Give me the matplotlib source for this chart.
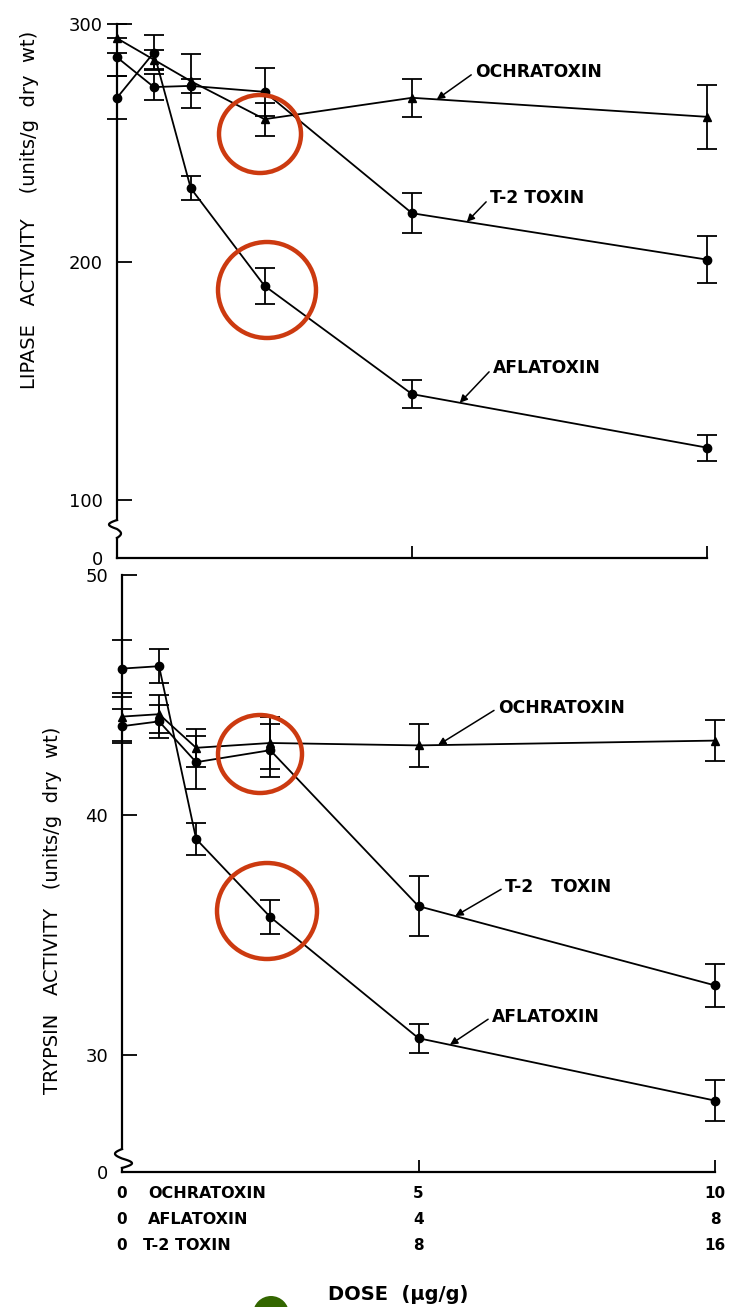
import numpy as np
import matplotlib
matplotlib.use("Agg")
import matplotlib.pyplot as plt
from matplotlib.patches import Ellipse

plt.rcParams['font.family'] = ['DejaVu Sans']

# ---------------- data ----------------
dose_ochratoxin = [0, 0.625, 1.25, 2.5, 5, 10]
dose_aflatoxin = [0, 0.5, 1, 2, 4, 8]
dose_t2 = [0, 1, 2, 4, 8, 16]

lipase_ochratoxin = [294, 285, 276, 260, 269, 261]
lipase_ochratoxin_err = [6, 4, 11.5, 7, 8, 13.5]
lipase_aflatoxin = [269, 288, 231, 190, 144.5, 122]
lipase_aflatoxin_err = [9, 7.4, 5, 7.5, 6, 5.5]
lipase_t2 = [286, 273.5, 274, 271.5, 220.5, 201]
lipase_t2_err = [8, 5.5, 3, 10, 8.5, 10]

trypsin_ochratoxin = [44.1, 44.2, 42.8, 43.0, 42.9, 43.1]
trypsin_ochratoxin_err = [1.0, 0.8, 0.8, 1.1, 0.9, 0.85]
trypsin_aflatoxin = [46.1, 46.2, 39.0, 35.75, 30.7, 28.1]
trypsin_aflatoxin_err = [1.2, 0.7, 0.65, 0.7, 0.6, 0.85]
trypsin_t2 = [43.7, 43.9, 42.2, 42.7, 36.2, 32.9]
trypsin_t2_err = [0.7, 0.7, 1.1, 1.1, 1.25, 0.9]

row_names = ["OCHRATOXIN", "AFLATOXIN", "T-2 TOXIN"]
xtick_rows = [["0", "5", "10"],
              ["0", "4", "8"],
              ["0", "8", "16"]]

# ---------------- layout ----------------
W, H = 738, 1307
fig = plt.figure(figsize=(W / 100, H / 100), dpi=100)


def fx(px):
    return px / W


def fy(py):
    return 1 - py / H


def scaled(dose):
    d = np.asarray(dose, dtype=float)
    return d * (max(dose_ochratoxin) / d.max())


# top axes (lipase)
top_px = dict(left=117, right=707, top=24, bottom=558, y100=500)
ax1 = fig.add_axes([fx(top_px['left']), fy(top_px['bottom']),
                    fx(top_px['right']) - fx(top_px['left']),
                    fy(top_px['top']) - fy(top_px['bottom'])])
ppu1 = (top_px['y100'] - top_px['top']) / 200.0
y1_bot = 100 - (top_px['bottom'] - top_px['y100']) / ppu1
ax1.set_xlim(0, 10)
ax1.set_ylim(y1_bot, 300)

# bottom axes (trypsin)
bot_px = dict(left=122, right=715, top=575, bottom=1172, y30=1055)
ax2 = fig.add_axes([fx(bot_px['left']), fy(bot_px['bottom']),
                    fx(bot_px['right']) - fx(bot_px['left']),
                    fy(bot_px['top']) - fy(bot_px['bottom'])])
ppu2 = (bot_px['y30'] - bot_px['top']) / 20.0
y2_bot = 30 - (bot_px['bottom'] - bot_px['y30']) / ppu2
ax2.set_xlim(0, 10)
ax2.set_ylim(y2_bot, 50)

LW = 1.3


def series(ax, dose, vals, errs, marker, ms):
    x = scaled(dose)
    cont = ax.errorbar(x, vals, yerr=errs, color='black', lw=LW, elinewidth=1.3,
                       capsize=7, capthick=1.3, marker=marker, ms=ms,
                       mfc='black', mec='black', zorder=3)
    for art in cont.get_children():
        art.set_clip_on(False)
    return x


def style_axes(ax, yticks, ylabels, y_break_top, y_break_bot, ylim_bot, ylim_top,
               ppx, amp_l, amp_r):
    for s in ['top', 'right', 'left']:
        ax.spines[s].set_visible(False)
    ax.spines['bottom'].set_linewidth(1.6)
    ax.set_facecolor('none')
    ax.set_xticks([5, 10])
    ax.set_xticklabels([])
    ax.tick_params(axis='x', direction='in', length=9, width=1.3)
    ax.set_yticks(yticks)
    ax.set_yticklabels(ylabels, fontsize=13)
    ax.tick_params(axis='y', direction='in', length=11, width=1.3, pad=10)
    # left spine with break squiggle
    ax.plot([0, 0], [y_break_top, ylim_top], color='black', lw=1.6, clip_on=False)
    ax.plot([0, 0], [ylim_bot, y_break_bot], color='black', lw=1.6, clip_on=False)
    t = np.linspace(0, 1, 60)
    s = np.sin(2 * np.pi * t)
    xs = np.where(s > 0, -amp_l * s, -amp_r * s) / ppx
    ys = y_break_top + (y_break_bot - y_break_top) * t
    ax.plot(xs, ys, color='black', lw=1.6, clip_on=False)


ppx1 = (top_px['right'] - top_px['left']) / 10.0
ppx2 = (bot_px['right'] - bot_px['left']) / 10.0

style_axes(ax1, [y1_bot, 100, 200, 300], ['0', '100', '200', '300'],
           300 - (520 - top_px['top']) / ppu1, 300 - (538 - top_px['top']) / ppu1,
           y1_bot, 300, ppx1, 8, 4)
style_axes(ax2, [y2_bot, 30, 40, 50], ['0', '30', '40', '50'],
           50 - (1149 - bot_px['top']) / ppu2, 50 - (1168 - bot_px['top']) / ppu2,
           y2_bot, 50, ppx2, 7, 10)

# series
xo1 = series(ax1, dose_ochratoxin, lipase_ochratoxin, lipase_ochratoxin_err, '^', 6)
xa1 = series(ax1, dose_aflatoxin, lipase_aflatoxin, lipase_aflatoxin_err, 'o', 6)
xt1 = series(ax1, dose_t2, lipase_t2, lipase_t2_err, 'o', 6)

xo2 = series(ax2, dose_ochratoxin, trypsin_ochratoxin, trypsin_ochratoxin_err, '^', 6)
xa2 = series(ax2, dose_aflatoxin, trypsin_aflatoxin, trypsin_aflatoxin_err, 'o', 6)
xt2 = series(ax2, dose_t2, trypsin_t2, trypsin_t2_err, 'o', 6)

arrow = dict(arrowstyle='-|>', color='black', lw=1.1, mutation_scale=11,
             shrinkA=1, shrinkB=0, relpos=(0, 0.5))


def label(ax, text, xs, vals, tip_x, tx, ty):
    tip_y = np.interp(tip_x, xs, vals)
    ax.annotate(text, xy=(tip_x, tip_y), xytext=(tx, ty), textcoords='data',
                ha='left', va='center', fontsize=12.3, fontweight='bold',
                arrowprops=arrow, annotation_clip=False)


label(ax1, 'OCHRATOXIN', xo1, lipase_ochratoxin, 5.42, 6.07, 279.8)
label(ax1, 'T-2 TOXIN', xt1, lipase_t2, 5.93, 6.32, 226.9)
label(ax1, 'AFLATOXIN', xa1, lipase_aflatoxin, 5.81, 6.37, 155.5)

label(ax2, 'OCHRATOXIN', xo2, trypsin_ochratoxin, 5.33, 6.34, 44.46)
label(ax2, 'T-2   TOXIN', xt2, trypsin_t2, 5.62, 6.46, 37.0)
label(ax2, 'AFLATOXIN', xa2, trypsin_aflatoxin, 5.53, 6.24, 31.6)

# y labels
fig.text(fx(30), fy(210), 'LIPASE   ACTIVITY    (units/g  dry  wt)', rotation=90,
         ha='center', va='center', fontsize=14)
fig.text(fx(53), fy(910), 'TRYPSIN   ACTIVITY   (units/g  dry  wt)', rotation=90,
         ha='center', va='center', fontsize=14)

# x tick rows
row_y = [1193, 1219, 1245]
name_x = [148, 148, 143]
tick_pos = [0, 5, 10]
for ry, nx, name, row in zip(row_y, name_x, row_names, xtick_rows):
    for pos, txt in zip(tick_pos, row):
        xpx = bot_px['left'] + pos * ppx2
        fig.text(fx(xpx), fy(ry), txt, ha='center', va='center',
                 fontsize=11, fontweight='bold')
    fig.text(fx(nx), fy(ry), name, ha='left', va='center',
             fontsize=11.5, fontweight='bold')

fig.text(fx(398), fy(1295), 'DOSE  (\u00b5g/g)', ha='center', va='center',
         fontsize=14, fontweight='bold')

# red highlight circles
red = '#cc3a10'
for cx, cy, rx, ry in [(260, 134, 41, 39), (267, 290, 49, 48),
                       (260, 754, 42, 39), (267, 911, 50, 48)]:
    fig.add_artist(Ellipse((fx(cx), fy(cy)), width=2 * rx / W, height=2 * ry / H,
                           transform=fig.transFigure, fill=False, ec=red, lw=3.2,
                           zorder=10))

# green blob at bottom
fig.add_artist(Ellipse((fx(271), fy(1314)), width=36 / W, height=36 / H,
                       transform=fig.transFigure, fc='#336600', ec='none', zorder=10))

fig.savefig('out.png', dpi=100)
